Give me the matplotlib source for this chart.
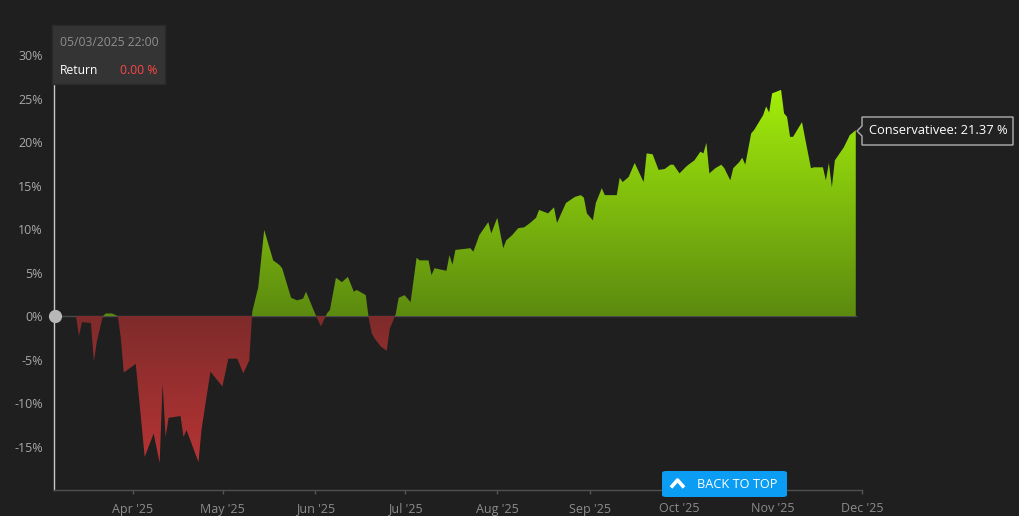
import datetime as dt

import numpy as np
import matplotlib
matplotlib.use('Agg')
import matplotlib.pyplot as plt
import matplotlib.dates as mdates
from matplotlib.patches import FancyBboxPatch, Polygon, Rectangle
from matplotlib.lines import Line2D
from matplotlib.path import Path
from matplotlib.colors import LinearSegmentedColormap

plt.rcParams['font.family'] = ['Open Sans', 'DejaVu Sans']

# ---------------------------------------------------------------
# data (days after 05/03/2025 22:00, cumulative return in %)
# ---------------------------------------------------------------
START = dt.datetime(2025, 3, 5, 22)
DAYS = [0, 7, 8, 9, 12, 13, 14, 16, 17, 19, 21, 22, 23, 27, 30, 33, 35, 36, 37, 38,
        42, 43, 44, 48, 49, 52, 56, 58, 61, 63, 65, 66, 68, 70, 73, 75, 76, 79, 81, 83,
        84, 87, 89, 91, 92, 94, 96, 98, 100, 101, 104, 105, 106, 107, 109, 111, 112, 114, 115, 117,
        119, 121, 122, 125, 126, 127, 131, 132, 133, 134, 139, 140, 142, 145, 146, 148, 150, 151, 153, 155,
        157, 159, 161, 162, 165, 167, 168, 171, 174, 176, 177, 178, 180, 181, 183, 184, 188, 189, 190, 192,
        194, 197, 198, 200, 202, 204, 206, 207, 209, 211, 212, 214, 216, 217, 218, 219, 221, 223, 224, 226,
        227, 229, 230, 231, 233, 234, 237, 238, 239, 240, 243, 244, 245, 246, 247, 250, 251, 253, 254, 257,
        258, 259, 260, 261, 264, 266, 268]
RETURNS = [0.0, 0.0, -2.3, -0.7, -0.8, -5.2, -2.9, 0.0, 0.3, 0.3, 0.0, -2.5, -6.5, -5.5, -16.2, -13.5, -16.9, -7.7, -13.9, -11.7,
           -11.5, -13.9, -13.1, -16.8, -13.1, -6.4, -8.1, -4.9, -4.9, -6.6, -5.1, 0.5, 3.3, 9.9, 6.4, 5.9, 5.5, 2.1, 1.8, 2.0,
           2.8, 0.3, -1.2, 0.3, 0.7, 4.4, 3.9, 4.5, 2.8, 3.0, 2.4, -0.3, -2.0, -2.6, -3.5, -4.0, -1.5, 0.2, 2.1, 2.4,
           1.6, 6.7, 6.4, 6.4, 4.7, 5.5, 5.2, 7.0, 5.9, 7.6, 7.8, 7.4, 9.3, 10.8, 9.5, 11.3, 7.8, 8.7, 9.3, 10.1,
           10.2, 10.7, 11.3, 12.2, 11.8, 12.5, 10.7, 13.0, 13.7, 13.9, 13.6, 11.8, 11.0, 13.0, 14.7, 13.9, 13.9, 15.9, 15.4, 16.0,
           17.6, 15.4, 18.7, 18.6, 16.8, 16.9, 17.4, 17.4, 16.4, 17.1, 17.4, 17.9, 18.9, 18.7, 19.9, 16.4, 17.0, 17.4, 17.0, 15.6,
           17.0, 17.7, 18.2, 17.4, 21.0, 21.4, 23.1, 24.1, 23.4, 25.6, 26.0, 23.3, 22.9, 20.6, 20.6, 22.3, 20.5, 17.0, 17.1, 17.1,
           15.6, 17.6, 14.8, 17.9, 19.4, 20.8, 21.37]

MONTH_TICKS = ['2025-04-01', '2025-05-01', '2025-06-01', '2025-07-01', '2025-08-01',
               '2025-09-01', '2025-10-01', '2025-11-01', '2025-12-01']
MONTH_LABELS = ["Apr '25", "May '25", "Jun '25", "Jul '25", "Aug '25",
                "Sep '25", "Oct '25", "Nov '25", "Dec '25"]
Y_TICKS = [-15, -10, -5, 0, 5, 10, 15, 20, 25, 30]

SERIES_NAME = 'Conservativee'
TOOLTIP_DATE = '05/03/2025 22:00'

BG = '#1f1f1f'
W, H = 1019, 516


def fx(px):
    return px / W


def fy(py):
    return 1 - py / H


x = mdates.date2num([START + dt.timedelta(days=d) for d in DAYS])
v = np.array(RETURNS, dtype=float)

# add zero crossings so the green / red areas meet exactly on the 0 line
xs, ys = [x[0]], [v[0]]
for i in range(1, len(x)):
    if (v[i - 1] < 0 < v[i]) or (v[i - 1] > 0 > v[i]):
        t = v[i - 1] / (v[i - 1] - v[i])
        xs.append(x[i - 1] + t * (x[i] - x[i - 1]))
        ys.append(0.0)
    xs.append(x[i])
    ys.append(v[i])
xs = np.array(xs)
ys = np.array(ys)

fig = plt.figure(figsize=(W / 100, H / 100), dpi=100, facecolor=BG)
ax = fig.add_axes([fx(54), fy(490), fx(862) - fx(54), fy(29) - fy(490)])
ax.set_facecolor(BG)

x_lo = mdates.date2num(dt.datetime(2025, 3, 5, 13, 26))
x_hi = mdates.date2num(dt.datetime(2025, 12, 1))
y_lo, y_hi = -20, 33

# zero line where the series sits flat
ax.plot([x[0], x[-1]], [0, 0], color='#4a4a4a', lw=1, zorder=1)


def gradient_area(lower, upper, c_zero, c_far, y_far):
    poly = ax.fill_between(xs, lower, upper, color='none', lw=0)
    grad = np.linspace(0, 1, 256).reshape(-1, 1)
    cmap = LinearSegmentedColormap.from_list('g', [c_zero, c_far])
    if y_far > 0:
        ext = [x_lo, x_hi, 0, y_far]
        img = grad
    else:
        ext = [x_lo, x_hi, y_far, 0]
        img = grad[::-1]
    im = ax.imshow(img, extent=ext, origin='lower', aspect='auto', cmap=cmap,
                   zorder=2, interpolation='bilinear')
    path = Path.make_compound_path(*poly.get_paths())
    im.set_clip_path(path, transform=ax.transData)


gradient_area(0, np.maximum(ys, 0), '#5c8a10', '#a4f00a', 26.5)
gradient_area(np.minimum(ys, 0), 0, '#7e2b2b', '#b83434', -17.5)

# start marker
ax.plot(x[0], 0, 'o', ms=8.5, color='#b8b8b8', zorder=6, clip_on=False)

ax.set_xlim(x_lo, x_hi)
ax.set_ylim(y_lo, y_hi)

ax.set_yticks(Y_TICKS)
ax.set_yticklabels([f'{t}%' for t in Y_TICKS])
ax.set_xticks(mdates.date2num([dt.datetime.fromisoformat(d) for d in MONTH_TICKS]))
ax.set_xticklabels(MONTH_LABELS)
ax.tick_params(axis='y', length=0, pad=8, labelsize=9, labelcolor='#a8a8a8')
ax.tick_params(axis='x', length=3, width=1, color='#555555', pad=6, labelsize=9,
               labelcolor='#8c8c8c')

for side in ['top', 'right']:
    ax.spines[side].set_visible(False)
ax.spines['left'].set_color('#c8c8c8')
ax.spines['left'].set_linewidth(1)
ax.spines['bottom'].set_color('#505050')
ax.spines['bottom'].set_linewidth(1)

# tooltip at the top left
fig.patches.append(Rectangle((fx(52), fy(84)), fx(165) - fx(52), fy(25) - fy(84),
                             transform=fig.transFigure, facecolor='#343434',
                             edgecolor='#2a2a2a', lw=1, zorder=10))
fig.text(fx(60), fy(42), TOOLTIP_DATE, color='#8f8f8f', fontsize=8.7, va='center',
         ha='left', zorder=11)
fig.text(fx(60), fy(71), 'Return', color='#ffffff', fontsize=8.7, va='center',
         ha='left', zorder=11)
fig.text(fx(157), fy(71), f'{0:.2f} %', color='#ff4545', fontsize=8.7, va='center',
         ha='right', zorder=11)

# series label at the end
lab = [(862, 117), (1013, 117), (1013, 145), (862, 145), (862, 136), (857, 131), (862, 126)]
fig.patches.append(Polygon([(fx(a), fy(b)) for a, b in lab], closed=True,
                           transform=fig.transFigure, facecolor='#222222',
                           edgecolor='#b0b0b0', lw=1, zorder=10))
fig.text(fx(869), fy(131), f'{SERIES_NAME}: {RETURNS[-1]:.2f} %', color='#ffffff',
         fontsize=9.3, va='center', ha='left', zorder=11)

# back to top button
fig.patches.append(FancyBboxPatch((fx(662), fy(497)), fx(787) - fx(662), fy(471) - fy(497),
                                  boxstyle='round,pad=0,rounding_size=0.004',
                                  transform=fig.transFigure, facecolor='#0a9df3',
                                  edgecolor='none', zorder=10))
fig.add_artist(Line2D([fx(671), fx(677.5), fx(684)], [fy(487.5), fy(480), fy(487.5)],
                      color='white', lw=2.6, solid_capstyle='butt', zorder=11))
fig.text(fx(697), fy(484.5), 'BACK TO TOP', color='#ffffff', fontsize=9.2,
         va='center', ha='left', zorder=11)

fig.savefig('out.png', dpi=100, facecolor=BG)
